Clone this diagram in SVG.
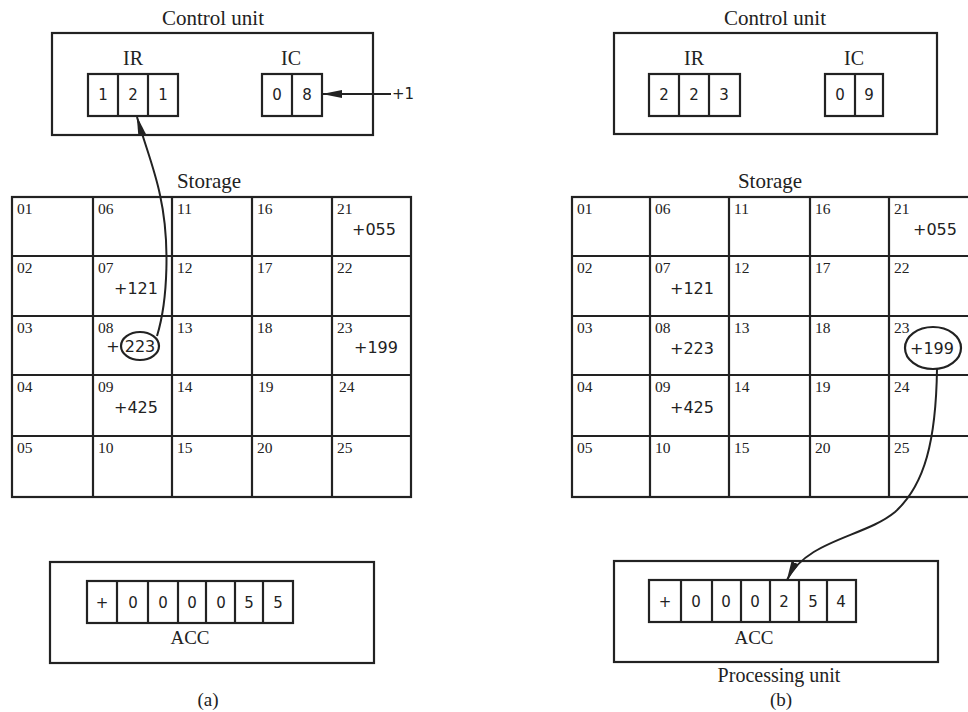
<svg xmlns="http://www.w3.org/2000/svg" width="968" height="712" viewBox="0 0 968 712">
<style>
.bx{fill:none;stroke:#222;stroke-width:2.2}
.ln{stroke:#222;stroke-width:2.2}
.t{font-family:"Liberation Serif","Times New Roman",serif;fill:#222}
.ttl{font-size:21px;text-anchor:middle}
.lbl{font-size:20px;text-anchor:middle}
.cn{font-size:15.5px}
.v{font-family:"DejaVu Sans","Liberation Sans",sans-serif;font-size:16px;fill:#222;text-anchor:middle}
.d{font-family:"DejaVu Sans","Liberation Sans",sans-serif;font-size:15px;fill:#222;text-anchor:middle}
.con{fill:none;stroke:#222;stroke-width:2}
</style>
<defs>
<marker id="ah" viewBox="0 0 20 10" refX="19" refY="5" markerWidth="20" markerHeight="10" markerUnits="userSpaceOnUse" orient="auto">
<path d="M0,1 L20,5 L0,9 z" fill="#222"/>
</marker>
</defs>
<rect width="968" height="712" fill="#fff"/>

<!-- LEFT (a) -->
<g id="left-control">
<text class="t ttl" x="213" y="25">Control unit</text>
<rect class="bx" x="52" y="33" width="321" height="102"/>
<text class="t lbl" x="133" y="65">IR</text>
<rect class="bx" x="88" y="74" width="90" height="42"/>
<line class="ln" x1="118" y1="74" x2="118" y2="116"/>
<line class="ln" x1="148" y1="74" x2="148" y2="116"/>
<text class="d" x="103" y="100">1</text>
<text class="d" x="133" y="100">2</text>
<text class="d" x="163" y="100">1</text>
<text class="t lbl" x="291" y="65">IC</text>
<rect class="bx" x="262" y="74" width="60" height="42"/>
<line class="ln" x1="292" y1="74" x2="292" y2="116"/>
<text class="d" x="277" y="100">0</text>
<text class="d" x="307" y="100">8</text>
<text class="d" x="403" y="99" font-size="16">+1</text>
</g>

<g id="left-storage">
<text class="t ttl" x="209" y="188">Storage</text>
<rect class="bx" x="12" y="197" width="399" height="300"/>
<line class="ln" x1="93" y1="197" x2="93" y2="497"/>
<line class="ln" x1="172" y1="197" x2="172" y2="497"/>
<line class="ln" x1="252" y1="197" x2="252" y2="497"/>
<line class="ln" x1="332" y1="197" x2="332" y2="497"/>
<line class="ln" x1="12" y1="256" x2="411" y2="256"/>
<line class="ln" x1="12" y1="316" x2="411" y2="316"/>
<line class="ln" x1="12" y1="375" x2="411" y2="375"/>
<line class="ln" x1="12" y1="436" x2="411" y2="436"/>
<g class="t cn">
<text x="17" y="214">01</text><text x="17" y="273">02</text><text x="17" y="333">03</text><text x="17" y="392">04</text><text x="17" y="453">05</text>
<text x="98" y="214">06</text><text x="98" y="273">07</text><text x="98" y="333">08</text><text x="98" y="392">09</text><text x="98" y="453">10</text>
<text x="177" y="214">11</text><text x="177" y="273">12</text><text x="177" y="333">13</text><text x="177" y="392">14</text><text x="177" y="453">15</text>
<text x="257" y="214">16</text><text x="257" y="273">17</text><text x="257" y="333">18</text><text x="258" y="392">19</text><text x="257" y="453">20</text>
<text x="337" y="214">21</text><text x="337" y="273">22</text><text x="337" y="333">23</text><text x="339" y="392">24</text><text x="337" y="453">25</text>
</g>
<text class="v" x="374" y="235">+055</text>
<text class="v" x="136" y="294">+121</text>
<text class="v" x="113" y="352">+</text>
<text class="v" x="140" y="352">223</text>
<ellipse class="bx" cx="140" cy="346" rx="19" ry="14"/>
<text class="v" x="376" y="353">+199</text>
<text class="v" x="136" y="413">+425</text>
</g>

<g id="left-acc">
<rect class="bx" x="50" y="562" width="324" height="101"/>
<rect class="bx" x="87" y="581" width="206" height="42"/>
<line class="ln" x1="117" y1="581" x2="117" y2="623"/>
<line class="ln" x1="148" y1="581" x2="148" y2="623"/>
<line class="ln" x1="178" y1="581" x2="178" y2="623"/>
<line class="ln" x1="206" y1="581" x2="206" y2="623"/>
<line class="ln" x1="235" y1="581" x2="235" y2="623"/>
<line class="ln" x1="263" y1="581" x2="263" y2="623"/>
<text class="d" x="102" y="608">+</text>
<text class="d" x="133" y="608">0</text>
<text class="d" x="163" y="608">0</text>
<text class="d" x="192" y="608">0</text>
<text class="d" x="221" y="608">0</text>
<text class="d" x="249" y="608">5</text>
<text class="d" x="278" y="608">5</text>
<text class="t" x="190" y="644" font-size="19" text-anchor="middle">ACC</text>
<text class="t" x="208" y="706" font-size="19" text-anchor="middle">(a)</text>
</g>

<!-- RIGHT (b) -->
<g id="right-control">
<text class="t ttl" x="775" y="25">Control unit</text>
<rect class="bx" x="614" y="33" width="323" height="101"/>
<text class="t lbl" x="694" y="65">IR</text>
<rect class="bx" x="649" y="74" width="91" height="42"/>
<line class="ln" x1="679" y1="74" x2="679" y2="116"/>
<line class="ln" x1="709" y1="74" x2="709" y2="116"/>
<text class="d" x="664" y="100">2</text>
<text class="d" x="694" y="100">2</text>
<text class="d" x="724" y="100">3</text>
<text class="t lbl" x="854" y="65">IC</text>
<rect class="bx" x="825" y="74" width="58" height="42"/>
<line class="ln" x1="855" y1="74" x2="855" y2="116"/>
<text class="d" x="840" y="100">0</text>
<text class="d" x="869" y="100">9</text>
</g>

<g id="right-storage">
<text class="t ttl" x="770" y="188">Storage</text>
<rect class="bx" x="572" y="197" width="398" height="300"/>
<line class="ln" x1="650" y1="197" x2="650" y2="497"/>
<line class="ln" x1="729" y1="197" x2="729" y2="497"/>
<line class="ln" x1="810" y1="197" x2="810" y2="497"/>
<line class="ln" x1="889" y1="197" x2="889" y2="497"/>
<line class="ln" x1="572" y1="256" x2="970" y2="256"/>
<line class="ln" x1="572" y1="316" x2="970" y2="316"/>
<line class="ln" x1="572" y1="375" x2="970" y2="375"/>
<line class="ln" x1="572" y1="436" x2="970" y2="436"/>
<g class="t cn">
<text x="577" y="214">01</text><text x="577" y="273">02</text><text x="577" y="333">03</text><text x="577" y="392">04</text><text x="577" y="453">05</text>
<text x="655" y="214">06</text><text x="655" y="273">07</text><text x="655" y="333">08</text><text x="655" y="392">09</text><text x="655" y="453">10</text>
<text x="734" y="214">11</text><text x="734" y="273">12</text><text x="734" y="333">13</text><text x="734" y="392">14</text><text x="734" y="453">15</text>
<text x="815" y="214">16</text><text x="815" y="273">17</text><text x="815" y="333">18</text><text x="815" y="392">19</text><text x="815" y="453">20</text>
<text x="894" y="214">21</text><text x="894" y="273">22</text><text x="894" y="333">23</text><text x="894" y="392">24</text><text x="894" y="453">25</text>
</g>
<text class="v" x="935" y="235">+055</text>
<text class="v" x="692" y="294">+121</text>
<text class="v" x="692" y="354">+223</text>
<text class="v" x="932" y="354">+199</text>
<ellipse class="bx" cx="933" cy="348" rx="28" ry="21"/>
<text class="v" x="692" y="413">+425</text>
</g>

<g id="right-acc">
<rect class="bx" x="614" y="561" width="324" height="101"/>
<rect class="bx" x="649" y="580" width="207" height="42"/>
<line class="ln" x1="681" y1="580" x2="681" y2="622"/>
<line class="ln" x1="712" y1="580" x2="712" y2="622"/>
<line class="ln" x1="741" y1="580" x2="741" y2="622"/>
<line class="ln" x1="770" y1="580" x2="770" y2="622"/>
<line class="ln" x1="799" y1="580" x2="799" y2="622"/>
<line class="ln" x1="827" y1="580" x2="827" y2="622"/>
<text class="d" x="665" y="607">+</text>
<text class="d" x="696" y="607">0</text>
<text class="d" x="726" y="607">0</text>
<text class="d" x="755" y="607">0</text>
<text class="d" x="784" y="607">2</text>
<text class="d" x="813" y="607">5</text>
<text class="d" x="841" y="607">4</text>
<text class="t" x="754" y="644" font-size="19" text-anchor="middle">ACC</text>
<text class="t" x="779" y="682" font-size="20" text-anchor="middle">Processing unit</text>
<text class="t" x="781" y="706" font-size="19" text-anchor="middle">(b)</text>
</g>

<g id="connectors">
<line class="con" x1="391" y1="94" x2="323" y2="94" marker-end="url(#ah)"/>
<path class="con" d="M157,336 C168,300 170,240 160,195 C155,170 145,145 137,117" marker-end="url(#ah)"/>
<path class="con" d="M937,369 C936,440 925,485 895,512 C865,537 806,540 787,580" marker-end="url(#ah)"/>
</g>
</svg>
